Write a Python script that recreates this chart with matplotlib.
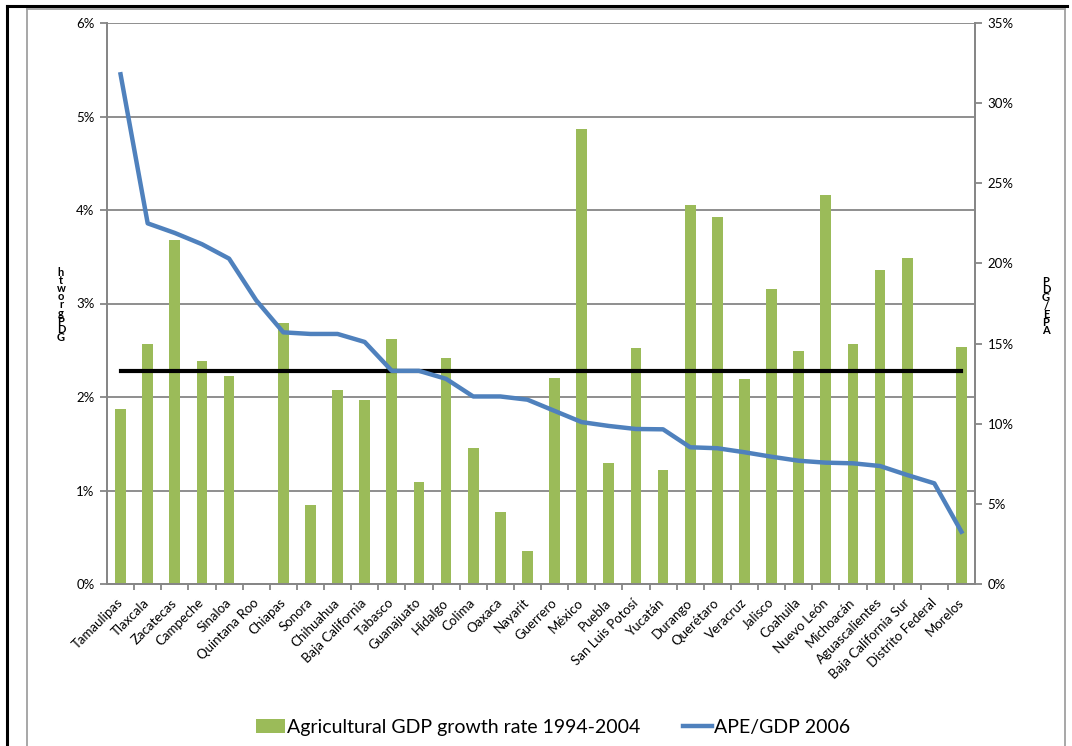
import matplotlib
matplotlib.use('Agg')
import matplotlib.pyplot as plt
from matplotlib.lines import Line2D
from matplotlib.ticker import FuncFormatter
import numpy as np

# data
states = ['Tamaulipas', 'Tlaxcala', 'Zacatecas', 'Campeche', 'Sinaloa', 'Quintana Roo',
          'Chiapas', 'Sonora', 'Chihuahua', 'Baja California', 'Tabasco', 'Guanajuato',
          'Hidalgo', 'Colima', 'Oaxaca', 'Nayarit', 'Guerrero', 'México', 'Puebla',
          'San Luis Potosí', 'Yucatán', 'Durango', 'Querétaro', 'Veracruz', 'Jalisco',
          'Coahuila', 'Nuevo León', 'Michoacán', 'Aguascalientes', 'Baja California Sur',
          'Distrito Federal', 'Morelos']
# Agricultural GDP growth rate 1994-2004 (%), left axis
ag_growth = [1.87, 2.57, 3.68, 2.39, 2.22, 0.0, 2.79, 0.84, 2.08, 1.97, 2.62, 1.09,
             2.42, 1.45, 0.77, 0.35, 2.20, 4.87, 1.29, 2.52, 1.22, 4.05, 3.93, 2.19,
             3.15, 2.49, 4.16, 2.57, 3.36, 3.49, 0.0, 2.53]
# APE/GDP 2006 (%), right axis
ape_gdp = [31.8, 22.5, 21.9, 21.2, 20.3, 17.7, 15.7, 15.6, 15.6, 15.1, 13.3, 13.3,
           12.8, 11.7, 11.7, 11.5, 10.8, 10.1, 9.86, 9.67, 9.65, 8.53, 8.47, 8.22,
           7.94, 7.69, 7.57, 7.53, 7.36, 6.8, 6.28, 3.26]
avg_growth = 2.275

green = '#9BBB59'
blue = '#4F81BD'
grey = '#868686'

plt.rcParams['font.family'] = ['Lato', 'DejaVu Sans']

fig = plt.figure(figsize=(10.72, 7.46), dpi=100)
ax = fig.add_axes([107 / 1072, 1 - 584 / 746, (975 - 107) / 1072, (584 - 23) / 746])
x = np.arange(len(states))

ax.bar(x, ag_growth, width=0.4, color=green, zorder=2, label='Agricultural GDP growth rate 1994-2004')
ax.plot(x, [avg_growth] * len(x), color='black', lw=3, zorder=4)
ax.set_xlim(-0.5, len(states) - 0.5)
ax.set_ylim(0, 6)
ax.set_yticks(range(0, 7))
ax.yaxis.set_major_formatter(FuncFormatter(lambda v, p: '%d%%' % v))
ax.grid(axis='y', color=grey, lw=1.3, zorder=1)
ax.set_axisbelow(True)

ax.set_xticks(x)
ax.set_xticklabels(states, rotation=45, ha='right', va='center', rotation_mode='anchor',
                   fontsize=9.5)
ax.tick_params(axis='x', length=0, pad=12)
ax.set_xticks(x[:-1] + 0.5, minor=True)
ax.tick_params(axis='x', which='minor', length=4, color=grey, width=1.3)
ax.tick_params(axis='y', length=5, color=grey, width=1.3, labelsize=9.5, pad=4)

ax2 = ax.twinx()
ax2.plot(x, ape_gdp, color=blue, lw=3.2, zorder=3, label='APE/GDP 2006')
ax2.set_ylim(0, 35)
ax2.set_yticks(range(0, 40, 5))
ax2.yaxis.set_major_formatter(FuncFormatter(lambda v, p: '%d%%' % v))
ax2.tick_params(axis='y', length=5, color=grey, width=1.3, labelsize=9.5, pad=4)

for a in (ax, ax2):
    for s in a.spines.values():
        s.set_color(grey)
        s.set_linewidth(1.3)
    a.spines['top'].set_visible(False)

# stacked axis titles as in the reference
fig.text(61 / 1072, 1 - 305 / 746, 'h\nt\nw\no\nr\ng\nP\nD\nG', ha='center', va='center',
         fontsize=8, fontweight='bold', linespacing=0.68)
fig.text(1046 / 1072, 1 - 306 / 746, 'P\nD\nG\n/\nE\nP\nA', ha='center', va='center',
         fontsize=8, fontweight='bold', linespacing=0.68)

h1, l1 = ax.get_legend_handles_labels()
h2, l2 = ax2.get_legend_handles_labels()
fig.legend(h1 + h2, l1 + l2, loc='center', bbox_to_anchor=(553 / 1072, 1 - 727 / 746),
           ncol=2, frameon=False, fontsize=14, handlelength=1.5, handletextpad=0.1,
           columnspacing=2.2)

# outer frame lines
fig.add_artist(Line2D([7 / 1072, 1067 / 1072], [1 - 6 / 746, 1 - 6 / 746], color='black', lw=2.2))
fig.add_artist(Line2D([7 / 1072, 7 / 1072], [0, 1 - 6 / 746], color='black', lw=2.2))
fig.add_artist(Line2D([27 / 1072, 27 / 1072], [0, 1 - 9 / 746], color='#A0A0A0', lw=1.3))
fig.add_artist(Line2D([1065 / 1072, 1065 / 1072], [0, 1 - 9 / 746], color='#A0A0A0', lw=1.3))
fig.add_artist(Line2D([27 / 1072, 1065 / 1072], [1 - 9 / 746, 1 - 9 / 746], color='#A0A0A0', lw=1.3))

fig.savefig('out.png', dpi=100)
